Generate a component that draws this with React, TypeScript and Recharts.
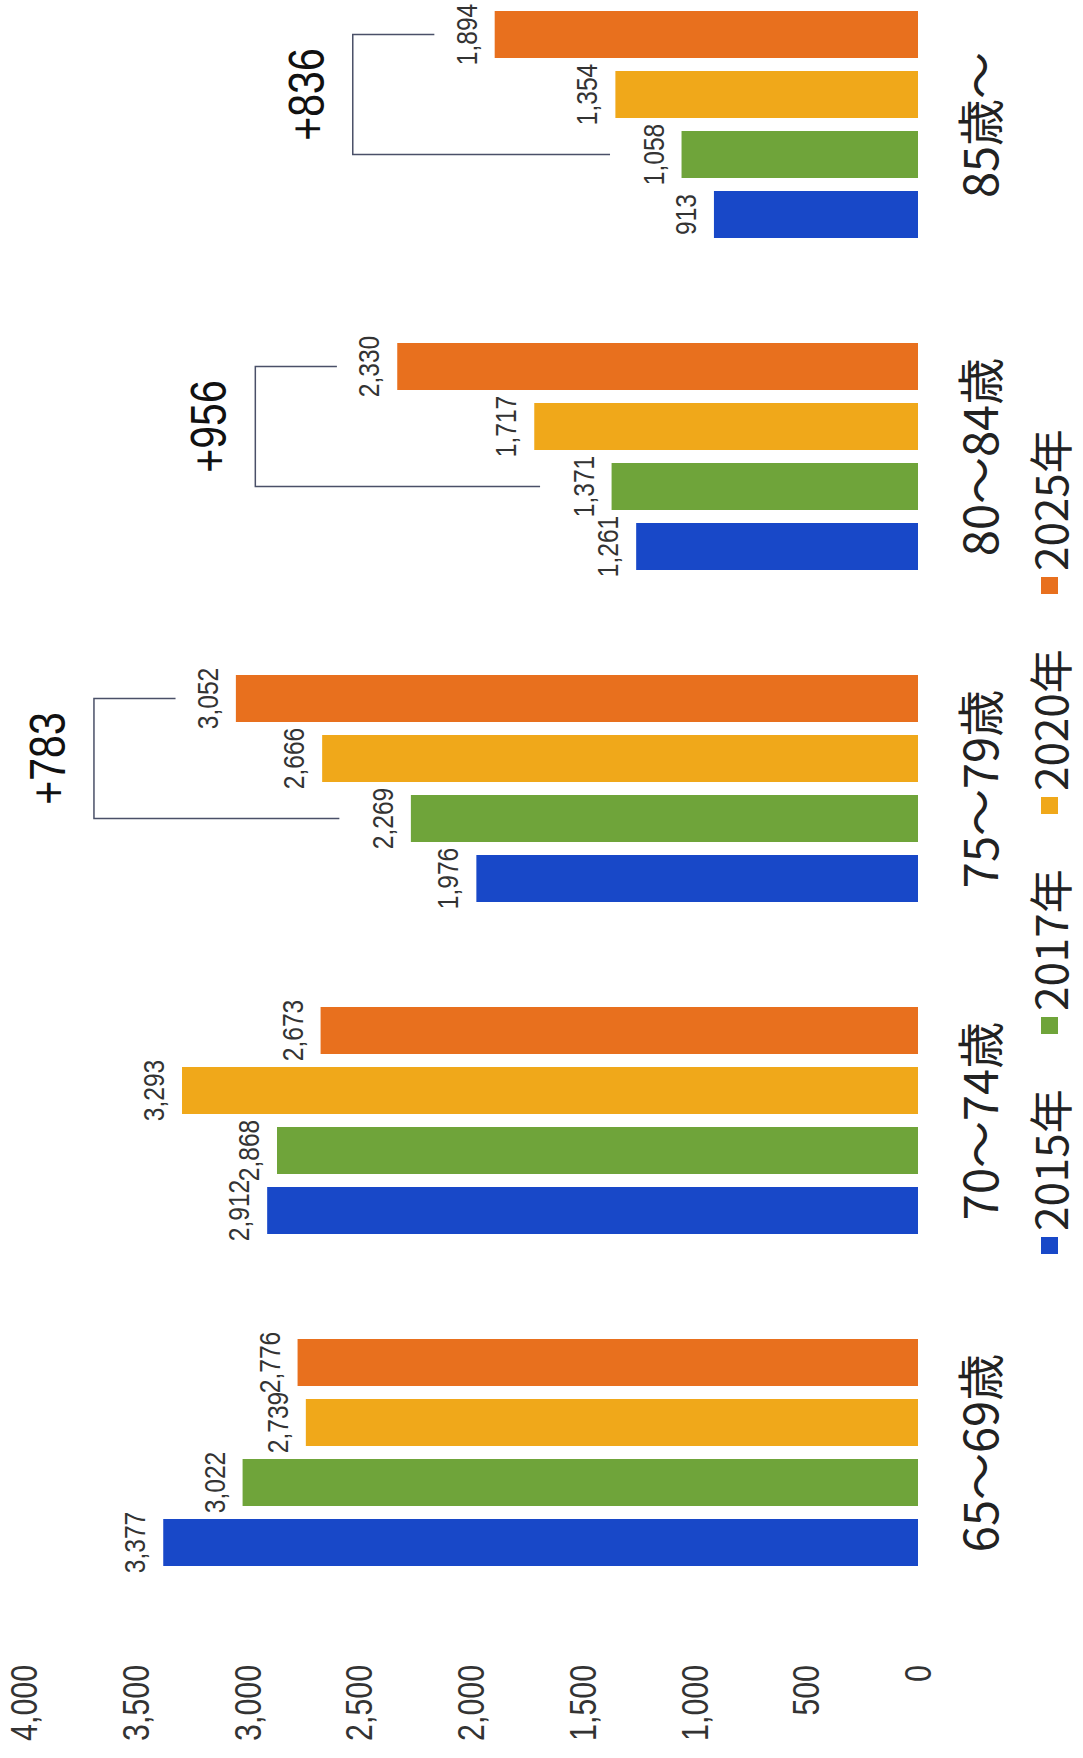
import React from 'react';
import { BarChart, Bar, XAxis, YAxis, Legend, LabelList } from 'recharts';

const ageGroups = ['65～69歳', '70～74歳', '75～79歳', '80～84歳', '85歳～'];
const years = ['2015年', '2017年', '2020年', '2025年'];
const v2015 = [3377, 2912, 1976, 1261, 913];
const v2017 = [3022, 2868, 2269, 1371, 1058];
const v2020 = [2739, 3293, 2666, 1717, 1354];
const v2025 = [2776, 2673, 3052, 2330, 1894];
const yTicks = [0, 500, 1000, 1500, 2000, 2500, 3000, 3500, 4000];
// increase 2017 -> 2025 written next to the brackets
const gains = ['', '', '+783', '+956', '+836'];

const colors = ['#1848c8', '#6fa43a', '#f0a81a', '#e8701e'];
const keys = ['y2015', 'y2017', 'y2020', 'y2025'];

const rows = ageGroups.map((age, i) => ({
  age,
  y2015: v2015[i],
  y2017: v2017[i],
  y2020: v2020[i],
  y2025: v2025[i],
}));

// the chart is laid out upright, then turned a quarter turn to the left
const CW = 1800;
const CH = 1083;
const SHIFT = 1759;
const BAR_SIZE = 47;
const BAR_GAP = 13;
const SQUEEZE = 0.82; // narrow look of the printed digits

const sans = "'Liberation Sans', Arial, sans-serif";
const jp = "'Noto Sans CJK JP', 'Noto Sans', sans-serif";

const fmt = (v: any) => Number(v).toLocaleString('en-US');

const Narrow = ({ x, y, size, anchor, baseline, fill, children }: any) => (
  <text
    transform={`translate(${x},${y}) scale(${SQUEEZE},1)`}
    textAnchor={anchor}
    dominantBaseline={baseline}
    fontSize={size}
    fontFamily={sans}
    fill={fill}
  >
    {children}
  </text>
);

const CategoryTick = (props: any) => {
  const { x, y, payload } = props;
  return (
    <text x={x} y={y + 59} textAnchor="middle" dominantBaseline="central" fontSize={47} fontFamily={jp} fill="#222">
      {payload.value}
    </text>
  );
};

const ValueTick = (props: any) => {
  const { x, y, payload } = props;
  return (
    <Narrow x={x} y={y} size={37} anchor="end" baseline="central" fill="#333">
      {fmt(payload.value)}
    </Narrow>
  );
};

const ValueLabel = (props: any) => {
  const vb = props.viewBox || props;
  const { x, y, width } = vb;
  return (
    <Narrow x={x + width / 2} y={y - 18} size={30} anchor="middle" baseline="alphabetic" fill="#333">
      {fmt(props.value)}
    </Narrow>
  );
};

const Bracket = (props: any) => {
  const vb = props.viewBox || props;
  const { x, y, width, height } = vb;
  const i = props.index != null ? props.index : v2025.indexOf(Number(props.value));
  if (i < 0 || !gains[i]) return null;
  const base = y + height;
  const k = height / v2025[i];
  const toY = (val: number) => base - val * k;
  const ox = x + width / 2;
  const gx = ox - 2 * (BAR_SIZE + BAR_GAP);
  const lineY = toY(v2025[i] + 635);
  const topEnd = toY(v2025[i] + 270);
  const botEnd = toY(v2017[i] + 320);
  return (
    <g>
      <path d={`M${ox},${topEnd} V${lineY} H${gx} V${botEnd}`} fill="none" stroke="#4a5068" strokeWidth={1.5} />
      <Narrow x={(ox + gx) / 2} y={lineY - 46} size={50} anchor="middle" baseline="central" fill="#111">
        {gains[i]}
      </Narrow>
    </g>
  );
};

const renderLegend = (props: any) => {
  const { payload } = props;
  return (
    <div style={{ display: 'flex', alignItems: 'center', height: 44 }}>
      {(payload || []).map((p: any) => (
        <div key={p.value} style={{ display: 'flex', alignItems: 'center', width: 220, height: 44 }}>
          <span style={{ display: 'inline-block', width: 17, height: 17, background: p.color, marginRight: 6 }} />
          <span style={{ fontSize: 44, fontFamily: jp, color: '#222', lineHeight: 1 }}>{p.value}</span>
        </div>
      ))}
    </div>
  );
};

export default function App() {
  return (
    <div style={{ position: 'absolute', left: 0, top: 0, width: 1083, height: 1758, overflow: 'hidden', background: '#fff' }}>
      <div
        style={{
          position: 'absolute',
          left: 0,
          top: 0,
          width: CW,
          height: CH,
          transformOrigin: '0 0',
          transform: `translate(0px, ${SHIFT}px) rotate(-90deg)`,
        }}
      >
        <BarChart width={CW} height={CH} data={rows} margin={{ top: 24, right: 0, bottom: 0, left: 0 }} barSize={BAR_SIZE} barGap={BAR_GAP}>
          <XAxis dataKey="age" height={165} tickLine={false} axisLine={false} tickSize={0} tickMargin={0} interval={0} tick={<CategoryTick />} />
          <YAxis
            domain={[0, 4000]}
            ticks={yTicks}
            width={140}
            tickLine={false}
            axisLine={false}
            tickSize={0}
            tickMargin={46}
            tick={<ValueTick />}
          />
          <Legend
            layout="horizontal"
            verticalAlign="middle"
            align="center"
            wrapperStyle={{ left: 505, top: 1027, width: 900, height: 44 }}
            content={renderLegend}
          />
          {keys.map((k, j) => (
            <Bar key={k} dataKey={k} name={years[j]} fill={colors[j]} isAnimationActive={false}>
              <LabelList dataKey={k} content={<ValueLabel />} />
              {j === 3 && <LabelList dataKey={k} content={<Bracket />} />}
            </Bar>
          ))}
        </BarChart>
      </div>
    </div>
  );
}
